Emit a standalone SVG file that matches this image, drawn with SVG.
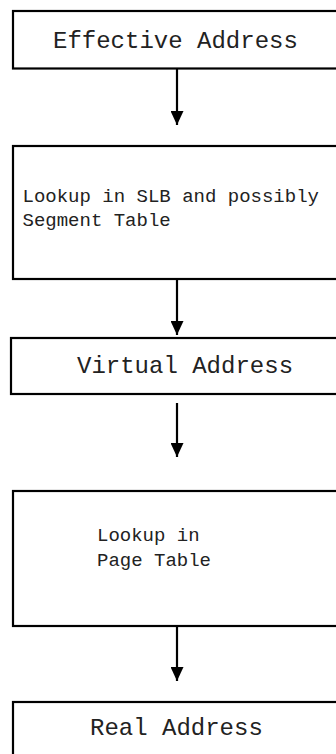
<svg xmlns="http://www.w3.org/2000/svg" width="336" height="754" viewBox="0 0 336 754">
<style>
.box{fill:#fff;stroke:#000;stroke-width:2.2}
.big{font-family:"Liberation Mono","Courier New",monospace;font-size:24px;fill:#222}
.small{font-family:"Liberation Mono","Courier New",monospace;font-size:19px;fill:#222}
.conn{stroke:#000;stroke-width:2.2;fill:none}
</style>
<defs>
<marker id="ah" viewBox="0 0 14 13" refX="14" refY="6.5" markerWidth="14" markerHeight="13" markerUnits="userSpaceOnUse" orient="auto">
<path d="M0,0 L14,6.5 L0,13 Z" fill="#000"/>
</marker>
</defs>
<g id="effective">
<rect class="box" x="13" y="11" width="330" height="57.5"/>
<text class="big" x="53" y="48">Effective Address</text>
</g>
<g id="lookup-slb">
<rect class="box" x="13" y="146" width="330" height="133"/>
<text class="small" x="22.5" y="201.5">Lookup in SLB and possibly</text>
<text class="small" x="22.5" y="225.5">Segment Table</text>
</g>
<g id="virtual">
<rect class="box" x="11" y="338" width="332" height="56"/>
<text class="big" x="77" y="373">Virtual Address</text>
</g>
<g id="lookup-page">
<rect class="box" x="13" y="491" width="330" height="135"/>
<text class="small" x="97" y="540.5">Lookup in</text>
<text class="small" x="97" y="565.5">Page Table</text>
</g>
<g id="real">
<rect class="box" x="13" y="702" width="330" height="60"/>
<text class="big" x="90" y="735">Real Address</text>
</g>
<g id="connectors">
<line class="conn" x1="177" y1="69" x2="177" y2="125" marker-end="url(#ah)"/>
<line class="conn" x1="177" y1="279" x2="177" y2="335" marker-end="url(#ah)"/>
<line class="conn" x1="177" y1="403" x2="177" y2="457" marker-end="url(#ah)"/>
<line class="conn" x1="177" y1="626" x2="177" y2="681" marker-end="url(#ah)"/>
</g>
</svg>
